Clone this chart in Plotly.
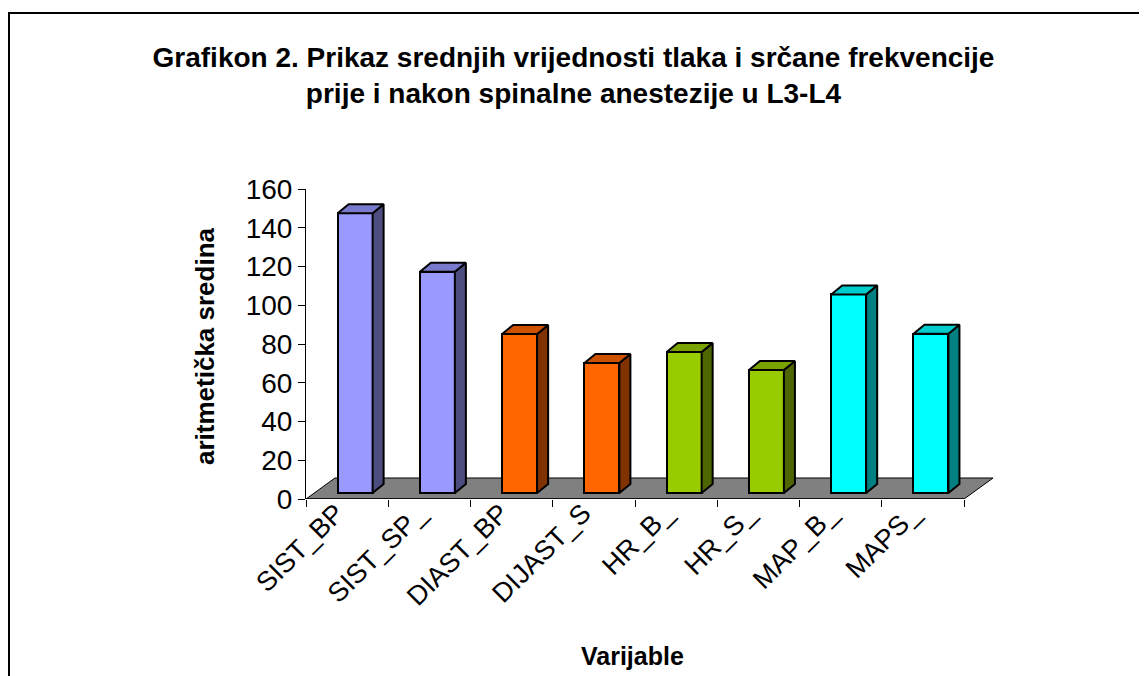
import plotly.graph_objects as go

# ---------------- data ----------------
categories = ["SIST_BP", "SIST_SP_", "DIAST_BP", "DIJAST_S", "HR_B_", "HR_S_", "MAP_B_", "MAPS_"]
values = [144.4, 114.2, 82.1, 67.1, 72.8, 63.5, 102.5, 82.2]
y_ticks = [0, 20, 40, 60, 80, 100, 120, 140, 160]

front_colors = ["#9999FF", "#9999FF", "#FF6600", "#FF6600", "#99CC00", "#99CC00", "#00FFFF", "#00FFFF"]
top_colors = ["#7A7ACC", "#7A7ACC", "#CC5200", "#CC5200", "#7AA300", "#7AA300", "#00CCCC", "#00CCCC"]
side_colors = ["#4D4D80", "#4D4D80", "#803300", "#803300", "#4D6600", "#4D6600", "#008080", "#008080"]

title_text = "Grafikon 2. Prikaz srednjih vrijednosti tlaka i srčane frekvencije<br>prije i nakon spinalne anestezije u L3-L4"
y_title = "aritmetička sredina"
x_title = "Varijable"

# ---------------- 3D look (in axis units) ----------------
BAR_W = 0.425
FRONT_DX, FRONT_DY = 0.097, 3.1     # bars sit a bit behind the front edge of the floor
DEPTH_DX, DEPTH_DY = 0.134, 4.65    # bar depth
FLOOR_DX, FLOOR_DY = 0.352, 10.84   # floor depth

FONT = "Arial, Liberation Sans, sans-serif"
W, H = 1139, 668          # page body has an 8px margin
PL, PT = 298, 181         # plot area left / top inside the figure
PW, PH = 691, 310         # plot area size


def px_x(page_x):
    return (page_x - 8 - PL) / PW


def px_y(page_y):
    return (PT + PH - (page_y - 8)) / PH


fig = go.Figure()

# front faces
n = len(categories)
fig.add_trace(go.Bar(
    x=list(range(n)), y=values, base=[FRONT_DY] * n,
    width=BAR_W, offset=-BAR_W / 2 + FRONT_DX,
    marker=dict(color=front_colors, line=dict(color="black", width=2)),
    showlegend=False, hoverinfo="skip"))

# side and top faces, computed from the values
for i, v in enumerate(values):
    L = i - BAR_W / 2 + FRONT_DX
    R = i + BAR_W / 2 + FRONT_DX
    b = FRONT_DY
    t = FRONT_DY + v
    fig.add_trace(go.Scatter(
        x=[R, R + DEPTH_DX, R + DEPTH_DX, R, R],
        y=[b, b + DEPTH_DY, t + DEPTH_DY, t, b],
        mode="lines", fill="toself", fillcolor=side_colors[i],
        line=dict(color="black", width=2), hoverinfo="skip", showlegend=False))
    fig.add_trace(go.Scatter(
        x=[L, L + DEPTH_DX, R + DEPTH_DX, R, L],
        y=[t, t + DEPTH_DY, t + DEPTH_DY, t, t],
        mode="lines", fill="toself", fillcolor=top_colors[i],
        line=dict(color="black", width=2), hoverinfo="skip", showlegend=False))

# floor (below the bars)
x0f, x1f = -0.5, n - 0.5
floor_path = (f"M {x0f},0 L {x1f},0 L {x1f + FLOOR_DX},{FLOOR_DY} "
              f"L {x0f + FLOOR_DX},{FLOOR_DY} Z")
fig.add_shape(type="path", path=floor_path, xref="x", yref="y", layer="below",
              fillcolor="#808080", line=dict(color="black", width=1))
fig.add_shape(type="line", xref="x", yref="y", x0=x0f, x1=x1f, y0=0, y1=0,
              layer="below", line=dict(color="black", width=1.5))

fig.update_layout(
    width=W, height=H,
    margin=dict(l=PL, r=W - PL - PW, t=PT, b=H - PT - PH, autoexpand=False),
    paper_bgcolor="white", plot_bgcolor="white",
    font=dict(family=FONT, color="black"),
    title=dict(text=title_text, x=565.5 / W, xanchor="center", xref="container",
               y=1 - 59 / H, yanchor="top", yref="container",
               font=dict(family=FONT, size=28, weight="bold", color="black")),
    xaxis=dict(range=[-0.5, n - 0.5 + 0.4], tickmode="array", tickvals=list(range(n)),
               ticktext=categories, ticks="", tickangle=-45, showline=False,
               showgrid=False, zeroline=False, automargin=False,
               ticklabelshift=-11, ticklabelstandoff=-8,
               tickfont=dict(size=27, family=FONT),
               minor=dict(tickmode="array", tickvals=[i - 0.5 for i in range(n + 1)],
                          ticks="outside", ticklen=7, tickcolor="black", tickwidth=1,
                          showgrid=False)),
    yaxis=dict(range=[0, 160], tickmode="array", tickvals=y_ticks, ticks="outside",
               ticklen=7, tickcolor="black", showline=True, linecolor="black", linewidth=1,
               showgrid=False, zeroline=False, automargin=False,
               tickfont=dict(size=28, family=FONT)),
    bargap=0,
)

# axis titles
fig.add_annotation(text=y_title, textangle=-90, xref="paper", yref="paper",
                   x=px_x(205), y=px_y(346), xanchor="center", yanchor="middle",
                   showarrow=False, font=dict(family=FONT, size=26, weight="bold", color="black"))
fig.add_annotation(text=x_title, xref="paper", yref="paper",
                   x=px_x(632), y=px_y(656), xanchor="center", yanchor="middle",
                   showarrow=False, font=dict(family=FONT, size=25, weight="bold", color="black"))

# chart-area frame
fig.add_shape(type="rect", xref="paper", yref="paper",
              x0=px_x(9), x1=px_x(1160), y0=px_y(700), y1=px_y(13),
              line=dict(color="black", width=2), fillcolor="rgba(0,0,0,0)", layer="below")

fig.write_html("out.html")
